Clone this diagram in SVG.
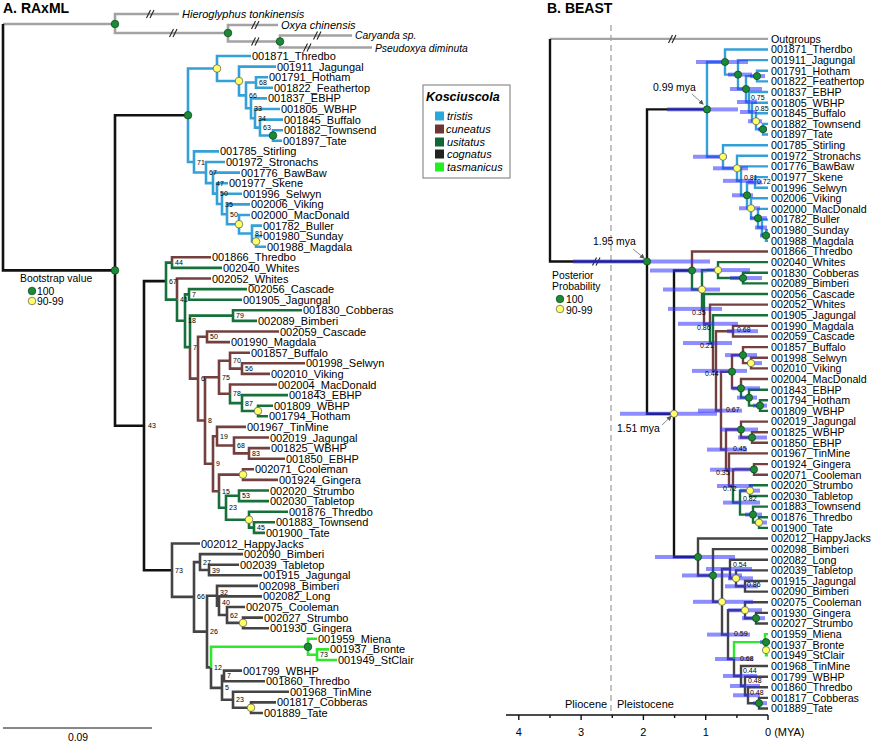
<svg xmlns="http://www.w3.org/2000/svg" width="873" height="743" viewBox="0 0 873 743">
<style>
text{font-family:"Liberation Sans",Arial,Helvetica,sans-serif;fill:#000}
.tl{font-size:11px}
.tr{font-size:10.7px}
.bs{font-size:7px}
.pp{font-size:7px}
.ttl{font-size:14px;font-weight:bold}
.lg{font-size:10.4px}
.it{font-style:italic}
.sm{font-size:10.3px}
.e{fill:none;stroke-width:2.6;stroke-linecap:butt;stroke-linejoin:miter}
.er{fill:none;stroke-width:2.4;stroke-linecap:butt;stroke-linejoin:miter}
.blk{stroke:#111}
.og{stroke:#a3a3a3}
.tri{stroke:#33a0d8}
.cun{stroke:#73403f}
.usi{stroke:#16703a}
.cog{stroke:#444}
.tas{stroke:#2ee82e}
.g{fill:#1a8a35;stroke:#0d401a;stroke-width:.7}
.y{fill:#ffff66;stroke:#555;stroke-width:.7}
.hpd rect{fill:#3030ff;fill-opacity:.55}
.ar{fill:none;stroke:#555;stroke-width:.7}
</style>
<defs>
<g id="brk"><path d="M-4.5 4L-0.5 -4M-1 4L3 -4" stroke="#222" stroke-width="1.1" fill="none"/></g>
<marker id="ah" markerWidth="5" markerHeight="5" refX="4" refY="2.5" orient="auto" markerUnits="userSpaceOnUse"><path d="M0 0L5 2.5L0 5z" fill="#555"/></marker>
</defs>

<!-- ===== Panel A: RAxML ===== -->
<text class="ttl" x="3" y="13">A. RAxML</text>
<g id="edges-A">
<path class="e og" d="M3 24H115 M115 24V14H179 M115 24V33H228 M228 33V25H278 M228 33V41.5H280 M280 41.5V35.5H352 M280 41.5V47.5H372"/>
<path class="e blk" d="M3 24V270.4H115 M115 270.4V115.2H188 M115 270.4V425.7H144 M144 425.7V281.1H166 M144 425.7V570.2H172"/>
<path class="e tri" d="M188 115.2V68.5H217 M188 115.2V162H194 M217 68.5V56H251 M217 68.5V81H239 M239 81V66.6H276 M239 81V95.4H246 M246 95.4V82.5H256 M246 95.4V108.3H251 M256 82.5V77.2H268 M256 82.5V87.8H273 M251 108.3V98.4H267 M251 108.3V118.3H255 M255 118.3V109H280 M255 118.3V127.6H260 M260 127.6V119.6H283 M260 127.6V135.5H273 M273 135.5V130.2H283 M273 135.5V140.8H282 M194 162V151.4H219 M194 162V172.5H206 M206 172.5V162H225 M206 172.5V183.1H213 M213 183.1V172.6H240 M213 183.1V193.6H217 M217 193.6V183.2H228 M217 193.6V204H222 M222 204V193.8H242 M222 204V214.3H227 M227 214.3V204.4H250 M227 214.3V224.2H239 M239 224.2V215H250 M239 224.2V233.5H252 M252 233.5V225.6H262 M252 233.5V241.4H256 M256 241.4V236.1H262 M256 241.4V246.7H266"/>
<path class="e usi" d="M166 281.1V262.6H172 M166 281.1V299.6H177 M172 262.6V267.9H222 M177 299.6V320.8H185 M185 320.8V294.4H189 M185 320.8V347.1H190 M189 294.4V289.1H247 M189 294.4V299.7H242 M190 347.1V315.6H233 M233 315.6V310.3H302 M233 315.6V320.9H257 M230 393.8V403.1H242 M242 403.1V395.1H288 M242 403.1V411H258 M258 411V405.7H273 M258 411V416.3H268 M219 491.2V507.8H226 M226 507.8V495.8H239 M226 507.8V519.7H249 M239 495.8V490.5H269 M239 495.8V501.1H269 M249 519.7V511.7H288 M249 519.7V527.6H254 M254 527.6V522.3H275 M254 527.6V532.9H265"/>
<path class="e cun" d="M172 262.6V257.3H211 M177 299.6V278.5H211 M190 347.1V378.6H198 M198 378.6V336.8H207 M198 378.6V420.5H205 M207 336.8V331.5H279 M207 336.8V342.1H230 M205 420.5V377.2H219 M205 420.5V463.7H213 M219 377.2V360.7H230 M219 377.2V393.8H230 M230 360.7V352.7H250 M230 360.7V368.6H242 M242 368.6V363.3H305 M242 368.6V373.9H270 M230 393.8V384.5H277 M213 463.7V436.2H217 M213 463.7V491.2H219 M217 436.2V426.9H246 M217 436.2V445.5H234 M234 445.5V437.5H269 M234 445.5V453.4H249 M249 453.4V448.1H270 M249 453.4V458.7H285 M219 491.2V474.6H243 M243 474.6V469.3H254 M243 474.6V479.9H278"/>
<path class="e cog" d="M172 570.2V543.5H200 M172 570.2V596.9H194 M194 596.9V562.1H200 M194 596.9V631.6H207 M200 562.1V554.1H243 M200 562.1V570H209 M209 570V564.7H239 M209 570V575.3H262 M207 631.6V595.8H217 M207 631.6V667.4H211 M217 595.8V585.9H258 M217 595.8V605.7H219 M219 605.7V596.4H262 M219 605.7V615H227 M227 615V607H245 M227 615V622.9H243 M243 622.9V617.6H263 M243 622.9V628.2H269 M211 667.4V687.9H222 M222 687.9V675.9H224 M222 687.9V699.8H233 M224 675.9V670.6H242 M224 675.9V681.2H265 M233 699.8V691.8H289 M233 699.8V707.7H251 M251 707.7V702.4H276 M251 707.7V713H263"/>
<path class="e tas" d="M211 667.4V646.8H308 M308 646.8V638.8H317 M308 646.8V654.7H317 M317 654.7V649.4H329 M317 654.7V660H337"/>
<use href="#brk" x="151" y="14"/>
<use href="#brk" x="174" y="33"/>
<use href="#brk" x="256" y="25"/>
<use href="#brk" x="256" y="41.5"/>
<use href="#brk" x="318" y="35.5"/>
<use href="#brk" x="308" y="47.5"/>
</g>
<g id="nodes-A">
<circle class="g" cx="115" cy="24" r="3.8"/><circle class="g" cx="228" cy="33" r="3.8"/><circle class="g" cx="280" cy="41.5" r="3.8"/>
<circle class="g" cx="115" cy="270.4" r="3.8"/><circle class="g" cx="188" cy="115.2" r="3.8"/><circle class="g" cx="273" cy="135.5" r="3.8"/><circle class="g" cx="308" cy="646.8" r="3.8"/>
<circle class="y" cx="217" cy="68.5" r="3.8"/><circle class="y" cx="239" cy="81" r="3.8"/><circle class="y" cx="239" cy="224.2" r="3.8"/><circle class="y" cx="256" cy="241.4" r="3.8"/><circle class="y" cx="258" cy="411" r="3.8"/><circle class="y" cx="243" cy="474.6" r="3.8"/><circle class="y" cx="249" cy="519.7" r="3.8"/><circle class="y" cx="243" cy="622.9" r="3.8"/><circle class="y" cx="251" cy="707.7" r="3.8"/>
</g>
<g id="bootstrap-A" class="bs">
<text x="263" y="130.1">63</text><text x="258" y="120.8">34</text><text x="254" y="110.8">33</text><text x="259" y="85">68</text><text x="249" y="97.9">66</text>
<text x="197" y="164.5">71</text><text x="209" y="175">67</text><text x="216" y="185.6">47</text><text x="220" y="196.1">50</text><text x="225" y="206.5">35</text><text x="230" y="216.8">50</text><text x="255" y="236">81</text>
<text x="175" y="265.1">44</text><text x="169" y="283.6">67</text><text x="180" y="302.1">41</text><text x="192" y="296.9">7</text><text x="188" y="323.3">18</text><text x="236" y="318.1">79</text><text x="193" y="349.6">7</text><text x="210" y="339.3">50</text><text x="201" y="381.1">6</text><text x="233" y="363.2">70</text><text x="245" y="371.1">56</text><text x="222" y="379.7">75</text><text x="233" y="396.3">78</text><text x="245" y="405.6">87</text><text x="208" y="423">8</text><text x="220" y="438.7">19</text><text x="237" y="448">68</text><text x="252" y="455.9">83</text><text x="216" y="466.2">9</text><text x="222" y="493.7">15</text><text x="242" y="498.3">53</text><text x="229" y="510.3">23</text><text x="257" y="530.1">45</text>
<text x="148" y="428.2">43</text>
<text x="175" y="572.7">73</text><text x="203" y="564.6">27</text><text x="212" y="572.5">39</text><text x="197" y="599.4">66</text><text x="220" y="594.5">32</text><text x="222" y="604.7">40</text><text x="230" y="617.5">62</text><text x="210" y="634.1">26</text><text x="320" y="657.2">73</text><text x="214" y="669.9">12</text><text x="227" y="678.4">7</text><text x="225" y="690.4">5</text><text x="236" y="702.3">23</text>
</g>
<g id="tips-A" class="tl">
<text class="it" x="182" y="18">Hieroglyphus tonkinensis</text>
<text class="it" x="281" y="29">Oxya chinensis</text>
<text class="it sm" x="355" y="39.3">Caryanda sp.</text>
<text class="it sm" x="375" y="51.6">Pseudoxya diminuta</text>
<text x="252" y="60">001871_Thredbo</text>
<text x="277" y="70.6">001911_Jagungal</text>
<text x="269" y="81.2">001791_Hotham</text>
<text x="274" y="91.8">001822_Feathertop</text>
<text x="268" y="102.4">001837_EBHP</text>
<text x="281" y="113">001805_WBHP</text>
<text x="284" y="123.6">001845_Buffalo</text>
<text x="284" y="134.2">001882_Townsend</text>
<text x="283" y="144.8">001897_Tate</text>
<text x="220" y="155.4">001785_Stirling</text>
<text x="226" y="166">001972_Stronachs</text>
<text x="241" y="176.6">001776_BawBaw</text>
<text x="229" y="187.2">001977_Skene</text>
<text x="243" y="197.8">001996_Selwyn</text>
<text x="251" y="208.4">002006_Viking</text>
<text x="251" y="219">002000_MacDonald</text>
<text x="263" y="229.6">001782_Buller</text>
<text x="263" y="240.1">001980_Sunday</text>
<text x="267" y="250.7">001988_Magdala</text>
<text x="212" y="261.3">001866_Thredbo</text>
<text x="223" y="271.9">002040_Whites</text>
<text x="212" y="282.5">002052_Whites</text>
<text x="248" y="293.1">002056_Cascade</text>
<text x="243" y="303.7">001905_Jagungal</text>
<text x="303" y="314.3">001830_Cobberas</text>
<text x="258" y="324.9">002089_Bimberi</text>
<text x="280" y="335.5">002059_Cascade</text>
<text x="231" y="346.1">001990_Magdala</text>
<text x="251" y="356.7">001857_Buffalo</text>
<text x="306" y="367.3">001998_Selwyn</text>
<text x="271" y="377.9">002010_Viking</text>
<text x="278" y="388.5">002004_MacDonald</text>
<text x="289" y="399.1">001843_EBHP</text>
<text x="274" y="409.7">001809_WBHP</text>
<text x="269" y="420.3">001794_Hotham</text>
<text x="247" y="430.9">001967_TinMine</text>
<text x="270" y="441.5">002019_Jagungal</text>
<text x="271" y="452.1">001825_WBHP</text>
<text x="286" y="462.7">001850_EBHP</text>
<text x="255" y="473.3">002071_Cooleman</text>
<text x="279" y="483.9">001924_Gingera</text>
<text x="270" y="494.5">002020_Strumbo</text>
<text x="270" y="505.1">002030_Tabletop</text>
<text x="289" y="515.7">001876_Thredbo</text>
<text x="276" y="526.3">001883_Townsend</text>
<text x="266" y="536.9">001900_Tate</text>
<text x="201" y="547.5">002012_HappyJacks</text>
<text x="244" y="558.1">002090_Bimberi</text>
<text x="240" y="568.7">002039_Tabletop</text>
<text x="263" y="579.3">001915_Jagungal</text>
<text x="259" y="589.9">002098_Bimberi</text>
<text x="263" y="600.4">002082_Long</text>
<text x="246" y="611">002075_Cooleman</text>
<text x="264" y="621.6">002027_Strumbo</text>
<text x="270" y="632.2">001930_Gingera</text>
<text x="318" y="642.8">001959_Miena</text>
<text x="330" y="653.4">001937_Bronte</text>
<text x="338" y="664">001949_StClair</text>
<text x="243" y="674.6">001799_WBHP</text>
<text x="266" y="685.2">001860_Thredbo</text>
<text x="290" y="695.8">001968_TinMine</text>
<text x="277" y="706.4">001817_Cobberas</text>
<text x="264" y="717">001889_Tate</text>
</g>
<g id="legend-bootstrap" class="lg">
<text x="20" y="282">Bootstrap value</text>
<circle class="g" cx="32" cy="291" r="3.8"/><text x="37" y="295">100</text>
<circle class="y" cx="32" cy="301" r="3.8"/><text x="37" y="305">90-99</text>
</g>
<g id="scale-A">
<path d="M3 728H152" stroke="#111" stroke-width="1"/>
<text class="lg" x="78" y="741" text-anchor="middle">0.09</text>
</g>
<g id="legend-species">
<rect x="423" y="85" width="87" height="93" fill="#fff" stroke="#777" stroke-width="1"/>
<text x="426" y="101" style="font-size:12.5px;font-weight:bold;font-style:italic">Kosciuscola</text>
<rect x="435" y="111.5" width="9" height="9" fill="#27a9dc"/>
<rect x="435" y="124.5" width="9" height="9" fill="#6e3535"/>
<rect x="435" y="137.5" width="9" height="9" fill="#116633"/>
<rect x="435" y="149.5" width="9" height="9" fill="#222"/>
<rect x="435" y="162.5" width="9" height="9" fill="#22ee22"/>
<text class="tl it" x="447" y="120">tristis</text>
<text class="tl it" x="446" y="133">cuneatus</text>
<text class="tl it" x="447" y="146">usitatus</text>
<text class="tl it" x="447" y="158">cognatus</text>
<text class="tl it" x="447" y="171">tasmanicus</text>
</g>

<!-- ===== Panel B: BEAST ===== -->
<text class="ttl" x="547" y="13">B. BEAST</text>
<g id="timescale">
<path d="M611 25V712" stroke="#9a9a9a" stroke-width="1.2" stroke-dasharray="6 4" fill="none"/>
<path d="M506 715H768 M518.8 715v5 M581.1 715v5 M643.4 715v5 M705.7 715v5 M768 715v5 M550 715v3 M612.3 715v3 M674.6 715v3 M736.9 715v3" stroke="#111" stroke-width="1.4" fill="none"/>
<text class="tl" x="518.8" y="736" text-anchor="middle">4</text>
<text class="tl" x="581.1" y="736" text-anchor="middle">3</text>
<text class="tl" x="643.4" y="736" text-anchor="middle">2</text>
<text class="tl" x="705.7" y="736" text-anchor="middle">1</text>
<text class="tl" x="765" y="736">0 (MYA)</text>
<text class="tl" x="565" y="708">Pliocene</text>
<text class="tl" x="617" y="708">Pleistocene</text>
</g>
<g id="edges-B">
<path class="er og" d="M550 38.9H768"/>
<path class="er blk" d="M550 38.9V261.5H647 M647 261.5V109.4H707 M647 261.5V413.75H674 M674 413.75V270.5H692 M674 413.75V557H698"/>
<path class="er tri" d="M707 109.4V62H725 M707 109.4V156.75H723 M725 62V49.5H768 M725 62V74.6H738 M738 74.6V60.1H768 M738 74.6V89H746 M746 89V76.1H757 M746 89V102H749 M757 76.1V70.8H768 M757 76.1V81.4H768 M749 102V92H768 M749 102V112H752 M752 112V102.7H768 M752 112V121.25H756 M756 121.25V113.3H768 M756 121.25V129.2H763 M763 129.2V123.9H768 M763 129.2V134.5H768 M723 156.75V145.2H768 M723 156.75V168.3H737 M737 168.3V155.8H768 M737 168.3V180.85H741 M741 180.85V166.4H768 M741 180.85V195.3H747 M747 195.3V182.4H755 M747 195.3V208.25H751 M755 182.4V177.1H768 M755 182.4V187.7H768 M751 208.25V198.3H768 M751 208.25V218.2H758 M758 218.2V208.9H768 M758 218.2V227.55H762 M762 227.55V219.6H768 M762 227.55V235.5H766 M766 235.5V230.2H768 M766 235.5V240.8H768"/>
<path class="er usi" d="M692 270.5V289.5H702 M702 289.5V270.1H718 M702 289.5V308.9H704 M718 270.1V262.1H768 M718 270.1V278.05H743 M743 278.05V272.7H768 M743 278.05V283.4H768 M704 308.9V294H768 M710 323.8V343.05H713 M713 343.05V315.2H768 M741 388.3V397.65H749 M749 397.65V389.7H768 M749 397.65V405.6H760 M760 405.6V400.3H768 M760 405.6V410.9H768 M733 486V502.6H740 M740 502.6V490.65H750 M740 502.6V514.6H753 M750 490.65V485.3H768 M750 490.65V496H768 M753 514.6V506.6H768 M753 514.6V522.55H759 M759 522.55V517.2H768 M759 522.55V527.9H768"/>
<path class="er cun" d="M692 270.5V251.5H768 M704 308.9V323.8H710 M710 323.8V304.6H768 M713 343.05V370.9H716 M716 370.9V331.2H733 M716 370.9V410.65H721 M733 331.2V325.9H768 M733 331.2V336.5H768 M721 410.65V371.7H732 M721 410.65V449.6H726 M732 371.7V355.1H743 M732 371.7V388.3H741 M743 355.1V347.1H768 M743 355.1V363.1H751 M751 363.1V357.8H768 M751 363.1V368.4H768 M741 388.3V379H768 M726 449.6V429.55H741 M726 449.6V469.7H729 M741 429.55V421.6H768 M741 429.55V437.5H752 M752 437.5V432.2H768 M752 437.5V442.8H768 M729 469.7V453.4H768 M729 469.7V486H733 M733 486V469.4H754 M754 469.4V464.1H768 M754 469.4V474.7H768"/>
<path class="er cog" d="M698 557V538.5H768 M698 557V575.45H713 M713 575.45V549.1H768 M713 575.45V601.8H722 M722 601.8V569H730 M722 601.8V634.6H728 M730 569V559.7H768 M730 569V578.35H736 M736 578.35V570.4H768 M736 578.35V586.3H745 M745 586.3V581H768 M745 586.3V591.6H768 M728 634.6V610.25H745 M728 634.6V659H734 M745 610.25V602.3H768 M745 610.25V618.2H756 M756 618.2V612.9H768 M756 618.2V623.5H768 M734 659V675.95H741 M741 675.95V666H768 M741 675.95V685.95H745 M745 685.95V676.7H768 M745 685.95V695.25H748 M748 695.25V687.3H768 M748 695.25V703.2H759 M759 703.2V697.9H768 M759 703.2V708.5H768"/>
<path class="er tas" d="M734 659V642.1H765 M765 642.1V634.1H768 M765 642.1V650.1H766 M766 650.1V644.8H768 M766 650.1V655.4H768"/>
<use href="#brk" x="673" y="38.9"/>
<use href="#brk" x="597" y="261.5"/>
</g>
<g id="hpd-B" class="hpd">
<rect x="573" y="259.5" width="137" height="4"/><rect x="667" y="107.4" width="71" height="4"/><rect x="620" y="411.75" width="97" height="4"/>
<rect x="696" y="60" width="52" height="4"/><rect x="728" y="72.6" width="24" height="4"/><rect x="730" y="87" width="32" height="4"/><rect x="750" y="74.1" width="15" height="4"/><rect x="737" y="100" width="20" height="4"/><rect x="740" y="110" width="17" height="4"/><rect x="748" y="119.25" width="14" height="4"/><rect x="758" y="127.2" width="9" height="4"/>
<rect x="693" y="154.75" width="34" height="4"/><rect x="713" y="166.3" width="35" height="4"/><rect x="723" y="178.85" width="30" height="4"/><rect x="732" y="193.3" width="21" height="4"/><rect x="748" y="180.4" width="14" height="4"/><rect x="739" y="206.25" width="21" height="4"/><rect x="750" y="216.2" width="17" height="4"/><rect x="755" y="225.55" width="12" height="4"/><rect x="760" y="233.5" width="10" height="4"/>
<rect x="650" y="268.5" width="57" height="4"/><rect x="707" y="268.1" width="43" height="4"/><rect x="730" y="276.05" width="32" height="4"/><rect x="663" y="287.5" width="57" height="4"/><rect x="668" y="306.9" width="54" height="4"/><rect x="678" y="321.8" width="60" height="4"/><rect x="683" y="341.05" width="49" height="4"/><rect x="727" y="329.2" width="31" height="4"/><rect x="725" y="353.1" width="32" height="4"/><rect x="747" y="361.1" width="15" height="4"/><rect x="692" y="368.9" width="55" height="4"/><rect x="732" y="386.3" width="28" height="4"/><rect x="737" y="395.65" width="20" height="4"/><rect x="753" y="403.6" width="14" height="4"/><rect x="698" y="408.65" width="44" height="4"/><rect x="720" y="427.55" width="38" height="4"/><rect x="738" y="435.5" width="29" height="4"/><rect x="707" y="447.6" width="40" height="4"/><rect x="710" y="467.7" width="25" height="4"/><rect x="735" y="467.4" width="22" height="4"/><rect x="717" y="484" width="36" height="4"/><rect x="740" y="488.65" width="20" height="4"/><rect x="723" y="500.6" width="37" height="4"/><rect x="745" y="512.6" width="17" height="4"/><rect x="755" y="520.55" width="12" height="4"/>
<rect x="655" y="555" width="80" height="4"/><rect x="682" y="573.45" width="60" height="4"/><rect x="706" y="567" width="46" height="4"/><rect x="728" y="576.35" width="25" height="4"/><rect x="725" y="584.3" width="33" height="4"/><rect x="693" y="599.8" width="60" height="4"/><rect x="728" y="608.25" width="34" height="4"/><rect x="742" y="616.2" width="23" height="4"/><rect x="707" y="632.6" width="43" height="4"/><rect x="760" y="640.1" width="10" height="4"/><rect x="715" y="657" width="38" height="4"/><rect x="723" y="673.95" width="34" height="4"/><rect x="730" y="683.95" width="30" height="4"/><rect x="733" y="693.25" width="27" height="4"/><rect x="753" y="701.2" width="14" height="4"/>
</g>
<g id="nodes-B">
<circle class="g" cx="647" cy="261.5" r="3.6"/><circle class="g" cx="707" cy="109.4" r="3.6"/><circle class="y" cx="674" cy="413.75" r="3.6"/>
<circle class="g" cx="725" cy="62" r="3.6"/><circle class="g" cx="738" cy="74.6" r="3.6"/><circle class="g" cx="746" cy="89" r="3.6"/><circle class="g" cx="757" cy="76.1" r="3.6"/><circle class="g" cx="763" cy="129.2" r="3.6"/><circle class="y" cx="756" cy="121.25" r="3.6"/>
<circle class="y" cx="723" cy="156.75" r="3.6"/><circle class="y" cx="737" cy="168.3" r="3.6"/><circle class="g" cx="747" cy="195.3" r="3.6"/><circle class="y" cx="751" cy="208.25" r="3.6"/><circle class="g" cx="758" cy="218.2" r="3.6"/><circle class="g" cx="766" cy="235.5" r="3.6"/>
<circle class="g" cx="692" cy="270.5" r="3.6"/><circle class="y" cx="718" cy="270.1" r="3.6"/><circle class="g" cx="743" cy="278.05" r="3.6"/><circle class="y" cx="702" cy="289.5" r="3.6"/><circle class="g" cx="743" cy="355.1" r="3.6"/><circle class="y" cx="751" cy="363.1" r="3.6"/><circle class="g" cx="732" cy="371.7" r="3.6"/><circle class="g" cx="741" cy="388.3" r="3.6"/><circle class="g" cx="749" cy="397.65" r="3.6"/><circle class="g" cx="760" cy="405.6" r="3.6"/><circle class="g" cx="741" cy="429.55" r="3.6"/><circle class="g" cx="752" cy="437.5" r="3.6"/><circle class="g" cx="754" cy="469.4" r="3.6"/><circle class="y" cx="750" cy="490.65" r="3.6"/><circle class="g" cx="753" cy="514.6" r="3.6"/><circle class="y" cx="759" cy="522.55" r="3.6"/>
<circle class="g" cx="698" cy="557" r="3.6"/><circle class="g" cx="713" cy="575.45" r="3.6"/><circle class="y" cx="736" cy="578.35" r="3.6"/><circle class="y" cx="722" cy="601.8" r="3.6"/><circle class="y" cx="745" cy="610.25" r="3.6"/><circle class="g" cx="756" cy="618.2" r="3.6"/><circle class="g" cx="766" cy="642.1" r="3.6"/><circle class="y" cx="766" cy="650.1" r="3.6"/><circle class="g" cx="759" cy="703.2" r="3.6"/>
</g>
<g id="posterior-B" class="pp">
<text x="751" y="99.5">0.75</text><text x="755" y="110.5">0.85</text><text x="744" y="179.5">0.81</text><text x="757" y="183.5">0.72</text>
<text x="692" y="314.5">0.35</text><text x="697" y="329.5">0.86</text><text x="700" y="347.5">0.21</text><text x="737" y="331.5">0.68</text><text x="705" y="375.5">0.44</text><text x="726" y="411.5">0.67</text><text x="733" y="450.5">0.45</text><text x="716" y="474.5">0.35</text><text x="723" y="490.5">0.72</text><text x="743" y="500.5">0.82</text>
<text x="733" y="566.5">0.54</text><text x="747" y="587">0.86</text><text x="734" y="635.5">0.59</text><text x="740" y="660.5">0.68</text><text x="743" y="672.5">0.44</text><text x="748" y="682.5">0.48</text><text x="750" y="694.5">0.48</text>
</g>
<g id="dates-B" class="lg">
<text x="653" y="91">0.99 mya</text><path class="ar" d="M692 94L703 104" marker-end="url(#ah)"/>
<text x="593" y="245">1.95 mya</text><path class="ar" d="M633 249L644 258" marker-end="url(#ah)"/>
<text x="617" y="432">1.51 mya</text><path class="ar" d="M662 425L671 416.5" marker-end="url(#ah)"/>
</g>
<g id="legend-posterior" class="lg">
<text x="552" y="279">Posterior</text>
<text x="552" y="290">Probability</text>
<circle class="g" cx="560" cy="299" r="3.8"/><text x="566" y="303">100</text>
<circle class="y" cx="560" cy="309" r="3.8"/><text x="566" y="314">90-99</text>
</g>
<g id="tips-B" class="tr">
<text x="771" y="42.7">Outgroups</text>
<text x="771" y="53.3">001871_Therdbo</text>
<text x="771" y="63.9">001911_Jagungal</text>
<text x="771" y="74.6">001791_Hotham</text>
<text x="771" y="85.2">001822_Feathertop</text>
<text x="771" y="95.8">001837_EBHP</text>
<text x="771" y="106.5">001805_WBHP</text>
<text x="771" y="117.1">001845_Buffalo</text>
<text x="771" y="127.7">001882_Townsend</text>
<text x="771" y="138.3">001897_Tate</text>
<text x="771" y="149">001785_Stirling</text>
<text x="771" y="159.6">001972_Stronachs</text>
<text x="771" y="170.2">001776_BawBaw</text>
<text x="771" y="180.9">001977_Skene</text>
<text x="771" y="191.5">001996_Selwyn</text>
<text x="771" y="202.1">002006_Viking</text>
<text x="771" y="212.7">002000_MacDonald</text>
<text x="771" y="223.4">001782_Buller</text>
<text x="771" y="234">001980_Sunday</text>
<text x="771" y="244.6">001988_Magdala</text>
<text x="771" y="255.3">001866_Thredbo</text>
<text x="771" y="265.9">002040_Whites</text>
<text x="771" y="276.5">001830_Cobberas</text>
<text x="771" y="287.2">002089_Bimberi</text>
<text x="771" y="297.8">002056_Cascade</text>
<text x="771" y="308.4">002052_Whites</text>
<text x="771" y="319">001905_Jagungal</text>
<text x="771" y="329.7">001990_Magdala</text>
<text x="771" y="340.3">002059_Cascade</text>
<text x="771" y="350.9">001857_Buffalo</text>
<text x="771" y="361.6">001998_Selwyn</text>
<text x="771" y="372.2">002010_Viking</text>
<text x="771" y="382.8">002004_MacDonald</text>
<text x="771" y="393.5">001843_EBHP</text>
<text x="771" y="404.1">001794_Hotham</text>
<text x="771" y="414.7">001809_WBHP</text>
<text x="771" y="425.4">002019_Jagungal</text>
<text x="771" y="436">001825_WBHP</text>
<text x="771" y="446.6">001850_EBHP</text>
<text x="771" y="457.2">001967_TinMine</text>
<text x="771" y="467.9">001924_Gingera</text>
<text x="771" y="478.5">002071_Cooleman</text>
<text x="771" y="489.1">002020_Strumbo</text>
<text x="771" y="499.8">002030_Tabletop</text>
<text x="771" y="510.4">001883_Townsend</text>
<text x="771" y="521">001876_Thredbo</text>
<text x="771" y="531.7">001900_Tate</text>
<text x="771" y="542.3">002012_HappyJacks</text>
<text x="771" y="552.9">002098_Bimberi</text>
<text x="771" y="563.5">002082_Long</text>
<text x="771" y="574.2">002039_Tabletop</text>
<text x="771" y="584.8">001915_Jagungal</text>
<text x="771" y="595.4">002090_Bimberi</text>
<text x="771" y="606.1">002075_Cooleman</text>
<text x="771" y="616.7">001930_Gingera</text>
<text x="771" y="627.3">002027_Strumbo</text>
<text x="771" y="637.9">001959_Miena</text>
<text x="771" y="648.6">001937_Bronte</text>
<text x="771" y="659.2">001949_StClair</text>
<text x="771" y="669.8">001968_TinMine</text>
<text x="771" y="680.5">001799_WBHP</text>
<text x="771" y="691.1">001860_Thredbo</text>
<text x="771" y="701.7">001817_Cobberas</text>
<text x="771" y="712.3">001889_Tate</text>
</g>
</svg>
